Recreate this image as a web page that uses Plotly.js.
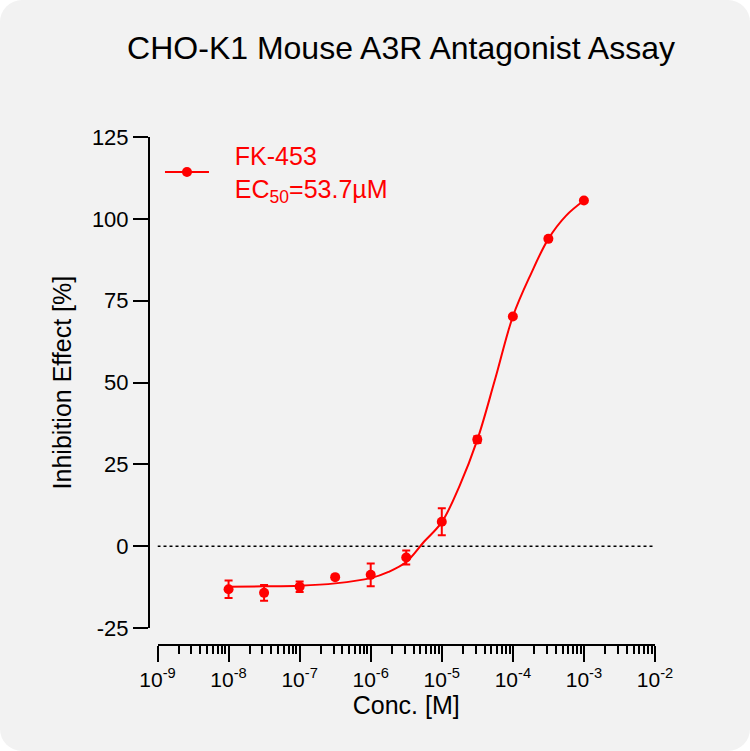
<!DOCTYPE html>
<html><head><meta charset="utf-8">
<script src="https://cdn.plot.ly/plotly-3.0.1.min.js"></script>
<style>
html,body{margin:0;padding:0;background:#ffffff;}
#chart{width:750px;height:751px;background:#f2f2f2;border-radius:22px;overflow:hidden;}
</style></head><body><div id="chart"></div>
<script>
// Measured points (mean ± error)
const conc = [1e-8, 3.16e-8, 1e-7, 3.16e-7, 1e-6, 3.16e-6, 1e-5, 3.16e-5, 1e-4, 3.16e-4, 1e-3];
const inhibition = [-13.1, -14.2, -12.3, -9.4, -8.7, -3.4, 7.5, 32.6, 70.2, 93.9, 105.6];
const errors = [2.7, 2.4, 1.6, 0, 3.5, 2.1, 4.1, 1.0, 0, 0, 0];

// Fitted curve
const curveConc = [1e-8, 3.16e-8, 1e-7, 3.16e-7, 1e-6, 1.78e-6, 3.16e-6, 5.62e-6, 1e-5, 1.78e-5, 3.16e-5, 5.62e-5, 1e-4, 1.78e-4, 3.16e-4, 5.62e-4, 1e-3];
const curveFit = [-12.3, -12.2, -12.0, -11.3, -9.7, -7.8, -4.8, 1.4, 7.4, 18.5, 32.5, 51, 70.2, 83, 93.9, 101, 105.6];

// Axis ticks
const xTickVals = [1e-9, 1e-8, 1e-7, 1e-6, 1e-5, 1e-4, 1e-3, 1e-2];
const xTickText = ['10<sup>-9</sup>', '10<sup>-8</sup>', '10<sup>-7</sup>', '10<sup>-6</sup>', '10<sup>-5</sup>', '10<sup>-4</sup>', '10<sup>-3</sup>', '10<sup>-2</sup>'];
const yTickVals = [-25, 0, 25, 50, 75, 100, 125];
const yTickText = ['-25', '0', '25', '50', '75', '100', '125'];
const xEnds = [1e-9, 1e-2];
const zeroLevel = [0, 0];

const red = '#ff0000';
const font = 'Arial, "Liberation Sans", Helvetica, sans-serif';
const pad = '&nbsp;&nbsp;&nbsp;';

const traces = [
  {x: xEnds, y: zeroLevel, mode: 'lines', line: {color: '#000', width: 1.5, dash: 'dot'}, showlegend: false, hoverinfo: 'skip'},
  {x: curveConc, y: curveFit, mode: 'lines', line: {color: red, width: 2, shape: 'spline', smoothing: 1}, showlegend: false},
  {x: conc, y: inhibition, mode: 'markers', marker: {color: red, size: 10},
   error_y: {type: 'data', array: errors, visible: true, color: red, thickness: 2, width: 4}, showlegend: false},
  {x: [null], y: [null], mode: 'lines+markers', name: pad + 'FK-453<br>' + pad + 'EC<sub>50</sub>=53.7µM',
   line: {color: red, width: 2}, marker: {color: red, size: 10}, showlegend: true}
];

const layout = {
  width: 750, height: 751,
  paper_bgcolor: 'rgba(0,0,0,0)', plot_bgcolor: 'rgba(0,0,0,0)',
  font: {family: font, color: '#000'},
  margin: {l: 149, r: 95, t: 137, b: 106, pad: 0},
  title: {text: 'CHO-K1 Mouse A3R Antagonist Assay', font: {size: 32, color: '#000', family: font},
          x: 0.5347, xref: 'container', xanchor: 'center', y: 0.9367, yref: 'container', yanchor: 'middle'},
  xaxis: {type: 'log', range: [-9, -2], domain: [0.0168, 1], anchor: 'free', position: 0,
          showline: true, linecolor: '#000', linewidth: 2, showgrid: false, zeroline: false,
          ticks: 'outside', ticklen: 16, tickwidth: 2, tickcolor: '#000',
          tickmode: 'array', tickvals: xTickVals, ticktext: xTickText, tickfont: {size: 21, color: '#000'},
          minor: {ticks: 'outside', ticklen: 8, tickwidth: 2, tickcolor: '#000', dtick: 'D1', showgrid: false},
          title: {text: 'Conc. [M]', font: {size: 25, color: '#000'}, standoff: 4}},
  yaxis: {range: [-25, 125], domain: [0.033, 1], anchor: 'free', position: 0,
          showline: true, linecolor: '#000', linewidth: 2, showgrid: false, zeroline: false,
          ticks: 'outside', ticklen: 15, tickwidth: 2, tickcolor: '#000',
          tickmode: 'array', tickvals: yTickVals, ticktext: yTickText, tickfont: {size: 22, color: '#000'},
          title: {text: 'Inhibition Effect [%]', font: {size: 25, color: '#000'}, standoff: 12}},
  legend: {x: 0.0217, y: 1.008, xanchor: 'left', yanchor: 'top', bgcolor: 'rgba(0,0,0,0)',
           font: {size: 25, color: red}, itemwidth: 44},
  showlegend: true
};

Plotly.newPlot('chart', traces, layout, {staticPlot: true, displayModeBar: false});
</script></body></html>
